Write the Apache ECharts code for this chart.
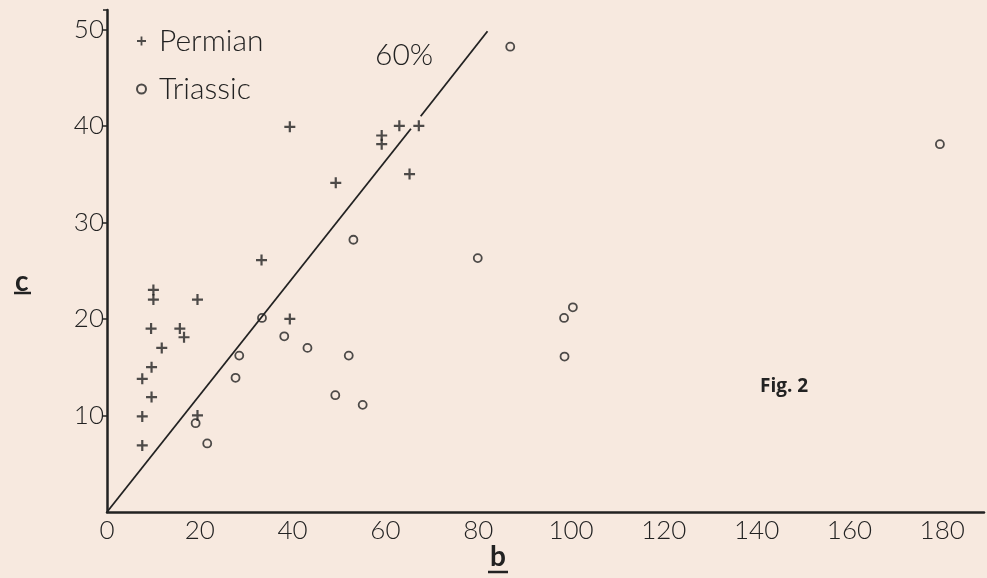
<!DOCTYPE html>
<html>
<head>
<meta charset="utf-8">
<script src="https://cdn.jsdelivr.net/npm/echarts@6/dist/echarts.min.js"></script>
<style>
html,body{margin:0;padding:0;background:#f7e9df;}
#chart{width:987px;height:578px;}
</style>
</head>
<body>
<div id="chart"></div>
<script>
// Data (b, c)
const permian = [
  [7.6, 6.9], [7.6, 9.9], [9.6, 11.9], [7.6, 13.8], [9.6, 15.0], [11.8, 17.0],
  [9.5, 19.0], [15.7, 19.0], [16.6, 18.1], [10, 22], [10, 23], [19.5, 22],
  [19.5, 10], [33.3, 26.1], [39.4, 20], [39.4, 39.9], [49.3, 34.1], [59.2, 38.1],
  [59.2, 39], [63, 40], [67.2, 40], [65.2, 35]
];
const triassic = [
  [19.1, 9.2], [21.6, 7.1], [27.7, 13.9], [28.5, 16.2], [33.4, 20.1], [38.2, 18.2],
  [43.2, 17], [49.2, 12.1], [52.1, 16.2], [55.1, 11.1], [53.1, 28.2], [79.9, 26.3],
  [86.9, 48.2], [98.5, 20.1], [98.6, 16.1], [100.4, 21.2], [179.5, 38.1]
];
const line60a = [[0, 0], [65.5, 39.7]];
const line60b = [[67.6, 41], [82, 49.8]];
const xTicks = [0, 20, 40, 60, 80, 100, 120, 140, 160, 180];
const yTicks = [0, 10, 20, 30, 40, 50];

const FONT = 'Lato, "DejaVu Sans", sans-serif';
const INK = '#222';
const PLUS = 'path://M4,0h2v4h4v2h-4v4h-2v-4h-4v-2h4z';

const chart = echarts.init(document.getElementById('chart'));
chart.setOption({
  backgroundColor: '#f7e9df',
  animation: false,
  grid: { left: 107, right: 0, top: 10, bottom: 66, containLabel: false },
  legend: {
    orient: 'vertical', left: 131, top: 21, itemGap: 18,
    itemWidth: 9, itemHeight: 9,
    data: ['Permian', 'Triassic'],
    textStyle: { fontFamily: FONT, fontSize: 30, lineHeight: 30, color: INK, fontWeight: 300, padding: [0, 0, 0, 8] }
  },
  xAxis: {
    type: 'value', min: 0, max: 189, interval: 20,
    splitLine: { show: false },
    axisLine: { lineStyle: { color: INK, width: 2.5 } },
    axisTick: { show: false },
    axisLabel: {
      margin: 6, color: INK, fontFamily: FONT, fontSize: 26, fontWeight: 300,
      formatter: v => xTicks.includes(v) ? String(v) : ''
    }
  },
  yAxis: {
    type: 'value', min: 0, max: 52, interval: 10,
    splitLine: { show: false },
    axisLine: { show: true, lineStyle: { color: INK, width: 2.5 } },
    axisTick: { show: true, length: 4, lineStyle: { color: INK, width: 1.5 } },
    axisLabel: {
      margin: 3, color: INK, fontFamily: FONT, fontSize: 26, fontWeight: 300,
      showMinLabel: false,
      formatter: v => yTicks.includes(v) && v !== 0 ? String(v) : ''
    }
  },
  series: [
    {
      name: 'Permian', type: 'scatter', data: permian,
      symbol: PLUS, symbolSize: 11,
      itemStyle: { color: INK }
    },
    {
      name: 'Triassic', type: 'scatter', data: triassic,
      symbol: 'circle', symbolSize: 8,
      itemStyle: { color: 'rgba(0,0,0,0)', borderColor: INK, borderWidth: 1.8 }
    },
    {
      name: '60a', type: 'line', data: line60a, symbol: 'none', silent: true,
      lineStyle: { color: INK, width: 1.8 }
    },
    {
      name: '60b', type: 'line', data: line60b, symbol: 'none', silent: true,
      lineStyle: { color: INK, width: 1.8 }
    }
  ],
  graphic: [
    { type: 'text', left: 375, top: 40, style: { text: '60%', fontFamily: FONT, fontSize: 30, fontWeight: 300, fill: INK } },
    { type: 'text', left: 760, top: 377, style: { text: 'Fig. 2', fontFamily: '"Open Sans", "Liberation Sans", sans-serif', fontSize: 19, fontWeight: 'bold', fill: INK } },
    { type: 'text', left: 15, top: 268, style: { text: 'c', fontFamily: FONT, fontSize: 28, fontWeight: 'bold', fill: INK } },
    { type: 'line', shape: { x1: 14, y1: 293, x2: 31, y2: 293 }, style: { stroke: INK, lineWidth: 2.5 } },
    { type: 'text', left: 490, top: 543, style: { text: 'b', fontFamily: FONT, fontSize: 28, fontWeight: 'bold', fill: INK } },
    { type: 'line', shape: { x1: 488, y1: 572, x2: 508, y2: 572 }, style: { stroke: INK, lineWidth: 2.5 } }
  ]
});
</script>
</body>
</html>
